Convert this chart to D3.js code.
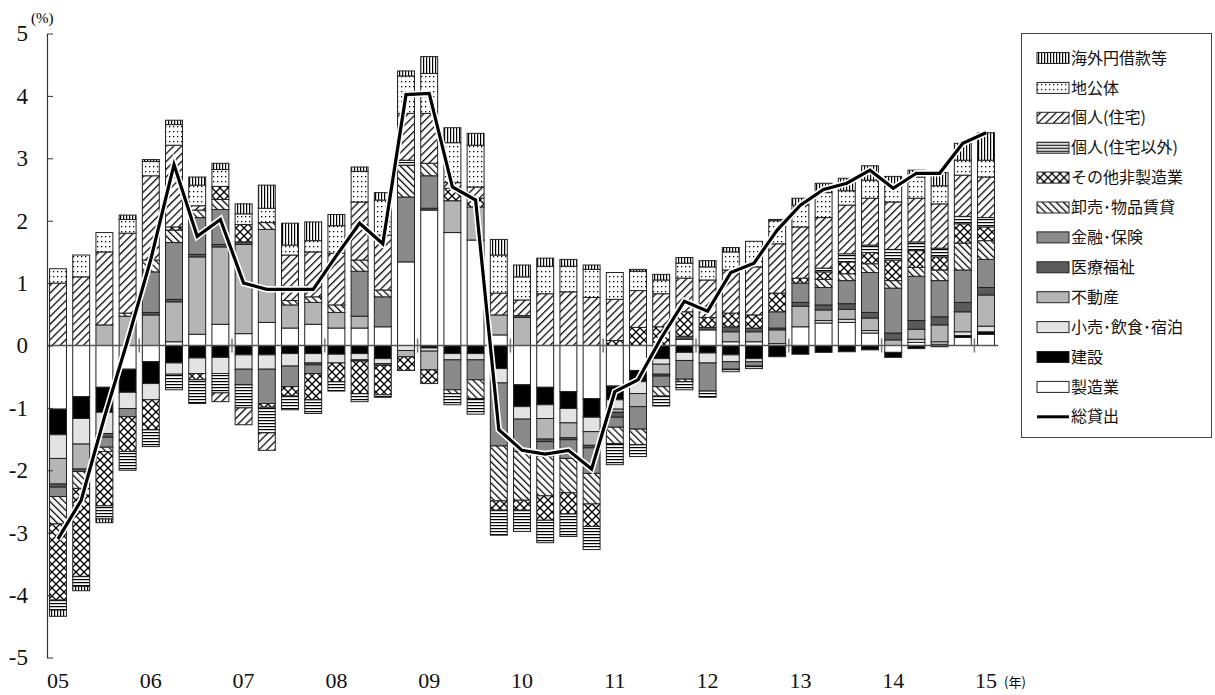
<!DOCTYPE html>
<html lang="ja">
<head>
<meta charset="utf-8">
<title>貸出残高前年比と業種別寄与度</title>
<script src="https://cdn.jsdelivr.net/npm/d3@7"></script>
<style>
  body { margin: 0; background: #fff; }
  .y-axis .tick text { font-family: "Liberation Serif", "DejaVu Serif", serif; font-size: 23px; fill: #111; }
  .y-axis path, .y-axis line { stroke: #333; }
  .xlab { font-family: "Liberation Serif", "DejaVu Serif", serif; font-size: 22px; fill: #111; }
  .legend text { font-family: "Noto Sans CJK JP", sans-serif; font-size: 16px; fill: #111; }
</style>
</head>
<body>
<script>
// 四半期（05年1Q～15年1Q）
const quarters = ["05Q1","05Q2","05Q3","05Q4","06Q1","06Q2","06Q3","06Q4","07Q1","07Q2","07Q3","07Q4",
  "08Q1","08Q2","08Q3","08Q4","09Q1","09Q2","09Q3","09Q4","10Q1","10Q2","10Q3","10Q4",
  "11Q1","11Q2","11Q3","11Q4","12Q1","12Q2","12Q3","12Q4","13Q1","13Q2","13Q3","13Q4",
  "14Q1","14Q2","14Q3","14Q4","15Q1"];
const yearLabels = ["05","06","07","08","09","10","11","12","13","14","15"];
const yTicks = [-5,-4,-3,-2,-1,0,1,2,3,4,5];

// 業種別寄与度（%ポイント）
const mfg = [-1.02,-0.82,-0.67,-0.38,-0.26,0.06,0.18,0.34,0.19,0.37, 0.28,0.34,0.28,0.28,0.30,1.34,2.17,1.81,1.69,0.17,
  -0.63,-0.67,-0.74,-0.85,-0.65,-0.40,0,0.10,0.25,0.06, 0.06,0.03,0.30,0.36,0.37,0.20,-0.11,0.05,0.02,0.13,0.18];
const con = [-0.41,-0.35,-0.40,-0.37,-0.35,-0.28,-0.20,-0.19,-0.15,-0.15, -0.13,-0.13,-0.14,-0.13,-0.21,0,-0.04,-0.13,-0.13,-0.37,
  -0.35,-0.28,-0.27,-0.30,-0.22,-0.18,-0.21,-0.11,-0.12,-0.15, -0.21,-0.18,-0.14,-0.11,-0.10,-0.07,-0.08,-0.05,-0.02,0.03,0.04];
const ret = [-0.38,-0.41,-0.34,-0.26,-0.26,-0.18,-0.25,-0.26,-0.23,-0.23, -0.20,-0.15,-0.14,-0.10,-0.08,-0.08,-0.05,-0.10,-0.10,-0.23,
  -0.20,-0.22,-0.23,-0.23,-0.15,-0.19,-0.09,-0.13,-0.16,-0.11, -0.05,0,0,0.04,0.05,0.04,0,0.05,0.04,0.06,0.09];
const re = [-0.41,-0.40,0.33,0.47,0.49,0.64,1.24,1.24,1.43,1.49, 0.37,0.35,0.25,0.19,0,-0.10,-0.30,0.51,0.53,0.32,
  0.45,-0.33,-0.24,-0.22,-0.05,-0.21,-0.16,0,0,0.16, 0.16,0.22,0.33,0.17,0.16,0.20,0.09,0.16,0.27,0.32,0.50];
const med = [-0.05,-0.04,-0.06,0,0.04,0.04,0.04,0.04,0.04,0, 0,-0.03,0,-0.02,-0.03,0,0.03,0,0,0,
  0.03,-0.04,-0.03,-0.04,-0.08,0,-0.03,0.05,0.04,0.08, 0.06,0.03,0.06,0.08,0.09,0.09,0.11,0.14,0.13,0.15,0.12];
const fin = [-0.15,0,-0.16,-0.13,0.65,0.91,0.59,0.56,-0.25,-0.55, -0.33,-0.14,0,0.72,0.48,1.04,0.52,-0.48,-0.32,-1.01,
  -0.52,-0.23,-0.30,-0.41,-0.16,-0.36,-0.17,-0.30,-0.45,-0.12, -0.07,0.26,0.31,0.28,0.37,0.64,0.72,0.71,0.58,0.52,0.45];
const whl = [-0.44,-0.27,-0.07,0.05,0.19,0.20,0.12,0.16,0,0.11, 0.07,0.09,0.12,0.18,0.11,0.51,0.20,-0.06,-0.30,-0.88,
  -0.78,-0.64,-0.55,-0.49,-0.26,-0.25,-0.15,-0.04,0,0, 0,0,0,0.13,0.11,0.14,0.12,0.14,0.17,0.43,0.30];
const oth = [-1.22,-1.41,-0.87,-0.56,-0.48,0.05,-0.10,0.21,0.28,-0.06, -0.15,-0.42,-0.30,-0.52,-0.47,-0.22,-0.22,0.20,0.14,-0.15,
  -0.16,-0.39,-0.34,-0.36,0.08,0.29,0.30,0.39,0.16,0.22, 0.21,0.30,0.08,0.12,0.19,0.18,0.33,0.27,0.21,0.31,0.22];
const ind = [-0.16,-0.16,-0.21,-0.30,-0.27,-0.25,-0.38,-0.31,-0.37,-0.41, -0.22,-0.22,-0.15,-0.13,-0.04,0.08,0,-0.18,-0.25,-0.40,
  -0.34,-0.36,-0.36,-0.37,-0.34,-0.19,-0.16,-0.13,-0.10,-0.04, -0.04,0,0,0.06,0.13,0.12,0.17,0.14,0.14,0.12,0.15];
const hou = [1.00,1.10,1.17,1.28,1.35,1.31,0.07,-0.14,-0.27,-0.28, 0.73,0.72,0.83,0.93,0.88,0.75,0.80,0.09,0.18,0.35,
  0.25,0.83,0.86,0.77,0.66,0.59,0.53,0.54,0.60,0.69, 0.77,0.79,0.82,0.81,0.78,0.75,0.76,0.70,0.71,0.66,0.65];
const loc = [0.23,0.35,0.31,0.22,0.23,0.33,0.33,0.27,0.17,0.23, 0.16,0.18,0.44,0.49,0.56,0.60,0.64,0.64,0.67,0.61,
  0.37,0.44,0.41,0.45,0.43,0.31,0.22,0.24,0.21,0.29, 0.41,0.37,0.35,0.40,0.23,0.29,0.25,0.34,0.29,0.24,0.27];
const ovs = [-0.10,-0.07,-0.06,0.07,0.03,0.07,0.13,0.10,0.16,0.37, 0.35,0.30,0.18,0.07,0.12,0.08,0.27,0.24,0.19,0.25,
  0.19,0.13,0.11,0.07,0,0.03,0.09,0.09,0.10,0.07, 0,0.02,0.11,0.15,0.20,0.23,0.16,0.11,0.21,0.27,0.44];
// 総貸出（前年比, %）
const total = [-3.10,-2.48,-1.15,0.08,1.38,2.90,1.75,2.02,1.00,0.90, 0.90,0.90,1.44,1.96,1.63,4.02,4.04,2.54,2.33,-1.35,
  -1.68,-1.74,-1.68,-1.98,-0.74,-0.55,0.12,0.71,0.55,1.17, 1.32,1.85,2.25,2.50,2.60,2.81,2.52,2.76,2.76,3.24,3.41];

const keys = ["mfg","con","ret","re","med","fin","whl","oth","ind","hou","loc","ovs"];
const series = {mfg, con, ret, re, med, fin, whl, oth, ind, hou, loc, ovs};
const names = {
  ovs: "海外円借款等", loc: "地公体", hou: "個人(住宅)", ind: "個人(住宅以外)",
  oth: "その他非製造業", whl: "卸売･物品賃貸", fin: "金融･保険", med: "医療福祉",
  re: "不動産", ret: "小売･飲食･宿泊", con: "建設", mfg: "製造業"
};
const fills = {
  mfg: "#fff", con: "#000", ret: "#e3e3e3", re: "#b5b5b5", med: "#5a5a5a", fin: "#8a8a8a",
  whl: "url(#p-whl)", oth: "url(#p-oth)", ind: "url(#p-ind)", hou: "url(#p-hou)",
  loc: "url(#p-loc)", ovs: "url(#p-ovs)"
};

const rows = quarters.map((q, i) => {
  const r = {q};
  keys.forEach(k => r[k] = series[k][i]);
  return r;
});

const width = 1215, height = 695;
const svg = d3.select("body").append("svg").attr("width", width).attr("height", height);

// hatch patterns
const defs = svg.append("defs");
function pat(id, w, h, rot, draw) {
  const p = defs.append("pattern").attr("id", id).attr("patternUnits", "userSpaceOnUse")
    .attr("width", w).attr("height", h);
  if (rot) p.attr("patternTransform", `rotate(${rot})`);
  p.append("rect").attr("width", w).attr("height", h).attr("fill", "#fff");
  draw(p);
}
pat("p-ovs", 3, 4, 0, p => p.append("rect").attr("x", 0).attr("y", 0).attr("width", 1.2).attr("height", 4)
  .attr("fill", "#000"));
pat("p-ind", 4, 3, 0, p => p.append("rect").attr("x", 0).attr("y", 0).attr("width", 4).attr("height", 1.2)
  .attr("fill", "#000"));
pat("p-hou", 5.5, 5.5, 45, p => p.append("rect").attr("x", 0).attr("y", 0).attr("width", 1.25).attr("height", 5.5)
  .attr("fill", "#000"));
pat("p-whl", 5, 5, -45, p => p.append("rect").attr("x", 0).attr("y", 0).attr("width", 1.25).attr("height", 5)
  .attr("fill", "#000"));
pat("p-oth", 8, 8, 0, p => p.append("path").attr("d", "M-1,-1L9,9M9,-1L-1,9")
  .attr("stroke", "#000").attr("stroke-width", 1.3));
pat("p-loc", 4, 5, 0, p => {
  p.append("rect").attr("x", 1).attr("y", 1).attr("width", 1.3).attr("height", 1.3).attr("fill", "#000");
});

const x = d3.scaleBand().domain(quarters).range([46.4, 997.6]).paddingInner(0.27).paddingOuter(0.135);
const y = d3.scaleLinear().domain([-5, 5]).range([657.5, 33.5]);

const stack = d3.stack().keys(keys).offset(d3.stackOffsetDiverging)(rows);

svg.append("g").selectAll("g")
  .data(stack).enter().append("g")
  .attr("fill", d => fills[d.key])
  .selectAll("rect")
  .data(d => d.filter(s => s[1] !== s[0])).enter()
  .append("rect")
  .attr("x", d => x(d.data.q))
  .attr("width", x.bandwidth())
  .attr("y", d => y(Math.max(d[0], d[1])))
  .attr("height", d => Math.abs(y(d[0]) - y(d[1])))
  .attr("stroke", "#222").attr("stroke-width", 1);

// zero line and year separators
svg.append("line").attr("x1", 47).attr("x2", 998).attr("y1", y(0)).attr("y2", y(0))
  .attr("stroke", "#555").attr("stroke-width", 1.5);
svg.append("g").selectAll("line")
  .data(yearLabels.slice(1)).enter().append("line")
  .attr("x1", d => x(d + "Q1") - x.step() * x.paddingInner() / 2)
  .attr("x2", d => x(d + "Q1") - x.step() * x.paddingInner() / 2)
  .attr("y1", y(0) - 7).attr("y2", y(0) + 7)
  .attr("stroke", "#777").attr("stroke-width", 1.5);

// y axis
svg.append("g").attr("class", "y-axis")
  .attr("transform", "translate(47,0)")
  .call(d3.axisLeft(y).tickValues(yTicks).tickSizeInner(-6).tickSizeOuter(0).tickPadding(19)
    .tickFormat(d => String(d)));
svg.select(".y-axis .domain").attr("stroke-width", 1.2);

svg.append("text").attr("x", 31).attr("y", 23)
  .style("font-family", "'Liberation Serif', 'DejaVu Serif', serif").style("font-size", "15px").text("(%)");

// x labels
svg.append("g").selectAll("text")
  .data(yearLabels).enter().append("text")
  .attr("class", "xlab")
  .attr("x", d => x(d + "Q1") + x.bandwidth() / 2)
  .attr("y", 688).attr("text-anchor", "middle").text(d => d);
svg.append("text").attr("x", 1004).attr("y", 687)
  .style("font-family", "'Noto Sans CJK JP', sans-serif").style("font-size", "13px").text("(年)");

// total line
const line = d3.line().x((d, i) => x(quarters[i]) + x.bandwidth() / 2).y(d => y(d));
svg.append("path").datum(total).attr("d", line).attr("fill", "none")
  .attr("stroke", "#fff").attr("stroke-width", 6.5).attr("stroke-linejoin", "miter");
svg.append("path").datum(total).attr("d", line).attr("fill", "none")
  .attr("stroke", "#000").attr("stroke-width", 3.2).attr("stroke-linejoin", "miter");

// legend
const legendKeys = ["ovs","loc","hou","ind","oth","whl","fin","med","re","ret","con","mfg"];
const lg = svg.append("g").attr("class", "legend");
lg.append("rect").attr("x", 1021.5).attr("y", 33.5).attr("width", 190).attr("height", 404)
  .attr("fill", "#fff").attr("stroke", "#444");
const ly = i => 58 + i * 29.9;
const items = lg.selectAll("g.item").data(legendKeys).enter().append("g").attr("class", "item")
  .attr("transform", (d, i) => `translate(0,${ly(i)})`);
items.append("rect").attr("x", 1037).attr("y", -5.5).attr("width", 32).attr("height", 11)
  .attr("fill", d => fills[d]).attr("stroke", "#222");
items.append("text").attr("x", 1071).attr("y", 0).attr("dy", "0.35em").text(d => names[d]);
const li = lg.append("g").attr("transform", `translate(0,${ly(12)})`);
li.append("line").attr("x1", 1037).attr("x2", 1069).attr("stroke", "#000").attr("stroke-width", 3);
li.append("text").attr("x", 1071).attr("y", 0).attr("dy", "0.35em").text("総貸出");
</script>
</body>
</html>
